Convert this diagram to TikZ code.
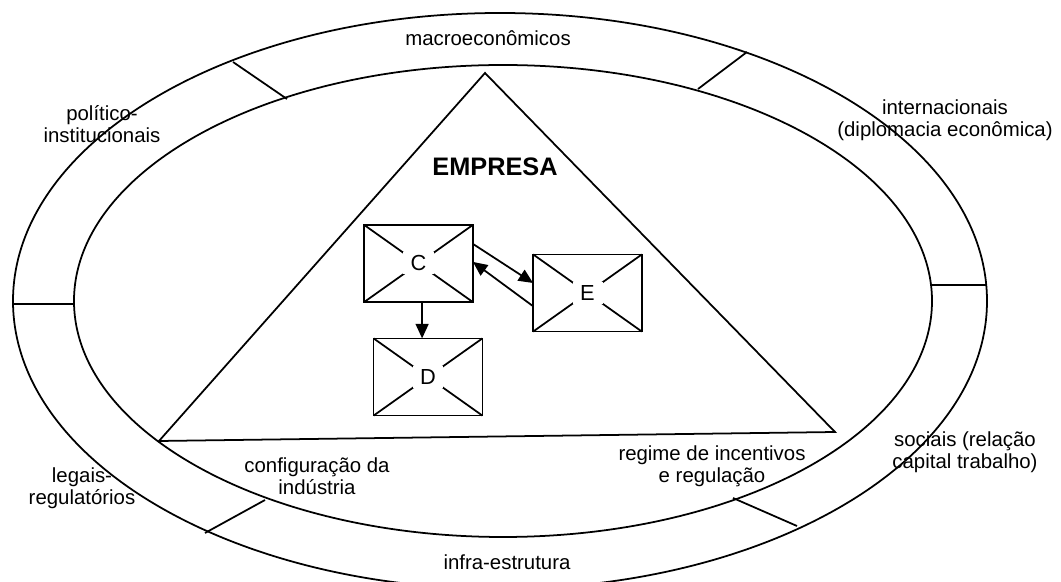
\documentclass[tikz,border=0pt]{standalone}
\usepackage{fontspec}
\setmainfont{Liberation Sans}
\usetikzlibrary{arrows.meta}
\newcommand{\drawthick}{\draw[line width=1.25pt]}
\newcommand{\crossbox}[4]{
    \node[xbox] (#1) at (#2,#3) {};
    \drawthick (#1.north west)--(#1.south east) (#1.north east)--(#1.south west);
    \node[xletter] (#1-text) at (#1) {#4};
}
\tikzset{
    xbox/.style={draw, line width=1.25pt, rectangle, outer sep=0pt, minimum width=2.72cm, minimum height=1.93cm},
    xletter/.style={fill=white, inner sep=0pt, minimum width=0.75cm, minimum height=0.55cm, font=\fontsize{15.5}{17}\selectfont},
    ring/.style={align=center, font=\fontsize{14.5}{15.8}\selectfont},
    flow/.style={line width=1.25pt, -{Triangle[length=0.36cm, width=0.32cm]}}
}

\begin{document}
\begin{tikzpicture}[x=0.025cm, y=-0.025cm]
\useasboundingbox (0,0) rectangle (1061,582);
% the two rings
\drawthick (500,301) ellipse [x radius=487, y radius=288];
\drawthick (503,301) ellipse [x radius=429, y radius=236];
% ring dividers
\drawthick (233,62)--(287,99);
\drawthick (747,52)--(698,89);
\drawthick (13,304)--(74,304);
\drawthick (932,285)--(987,285);
\drawthick (205,533)--(265,500);
\drawthick (797,526)--(733,498);
% the firm
\drawthick (485,73)--(835,432)--(159,441)--cycle;
\node[font=\bfseries\fontsize{18}{20}\selectfont] (empresa) at (495,167) {EMPRESA};
\crossbox{C}{418.5}{263.5}{C}
\crossbox{E}{587.5}{293}{E}
\crossbox{D}{428}{377}{D}
\draw[flow] ([yshift=0.49cm]C.east)--([yshift=0.25cm]E.west);
\draw[flow] ([yshift=-0.33cm]E.west)--([yshift=0.04cm]C.east);
\draw[flow] ([xshift=0.09cm]C.south)--([xshift=0.09cm]C.south |- D.north);
% factor labels
\node[ring] (macro) at (488,38) {macroeconômicos};
\node[ring] (politico) at (102,124) {político-\\institucionais};
\node[ring] (inter) at (945,120) {internacionais\\(diplomacia econômica)};
\node[ring] (legais) at (82,488) {legais-\\regulatórios};
\node[ring] (config) at (317,476) {configuração da\\indústria};
\node[ring] (regime) at (712,466) {regime de incentivos\\e regulação};
\node[ring] (sociais) at (965,452) {sociais (relação\\capital trabalho)};
\node[ring] (infra) at (507,562) {infra-estrutura};
\end{tikzpicture}
\end{document}
